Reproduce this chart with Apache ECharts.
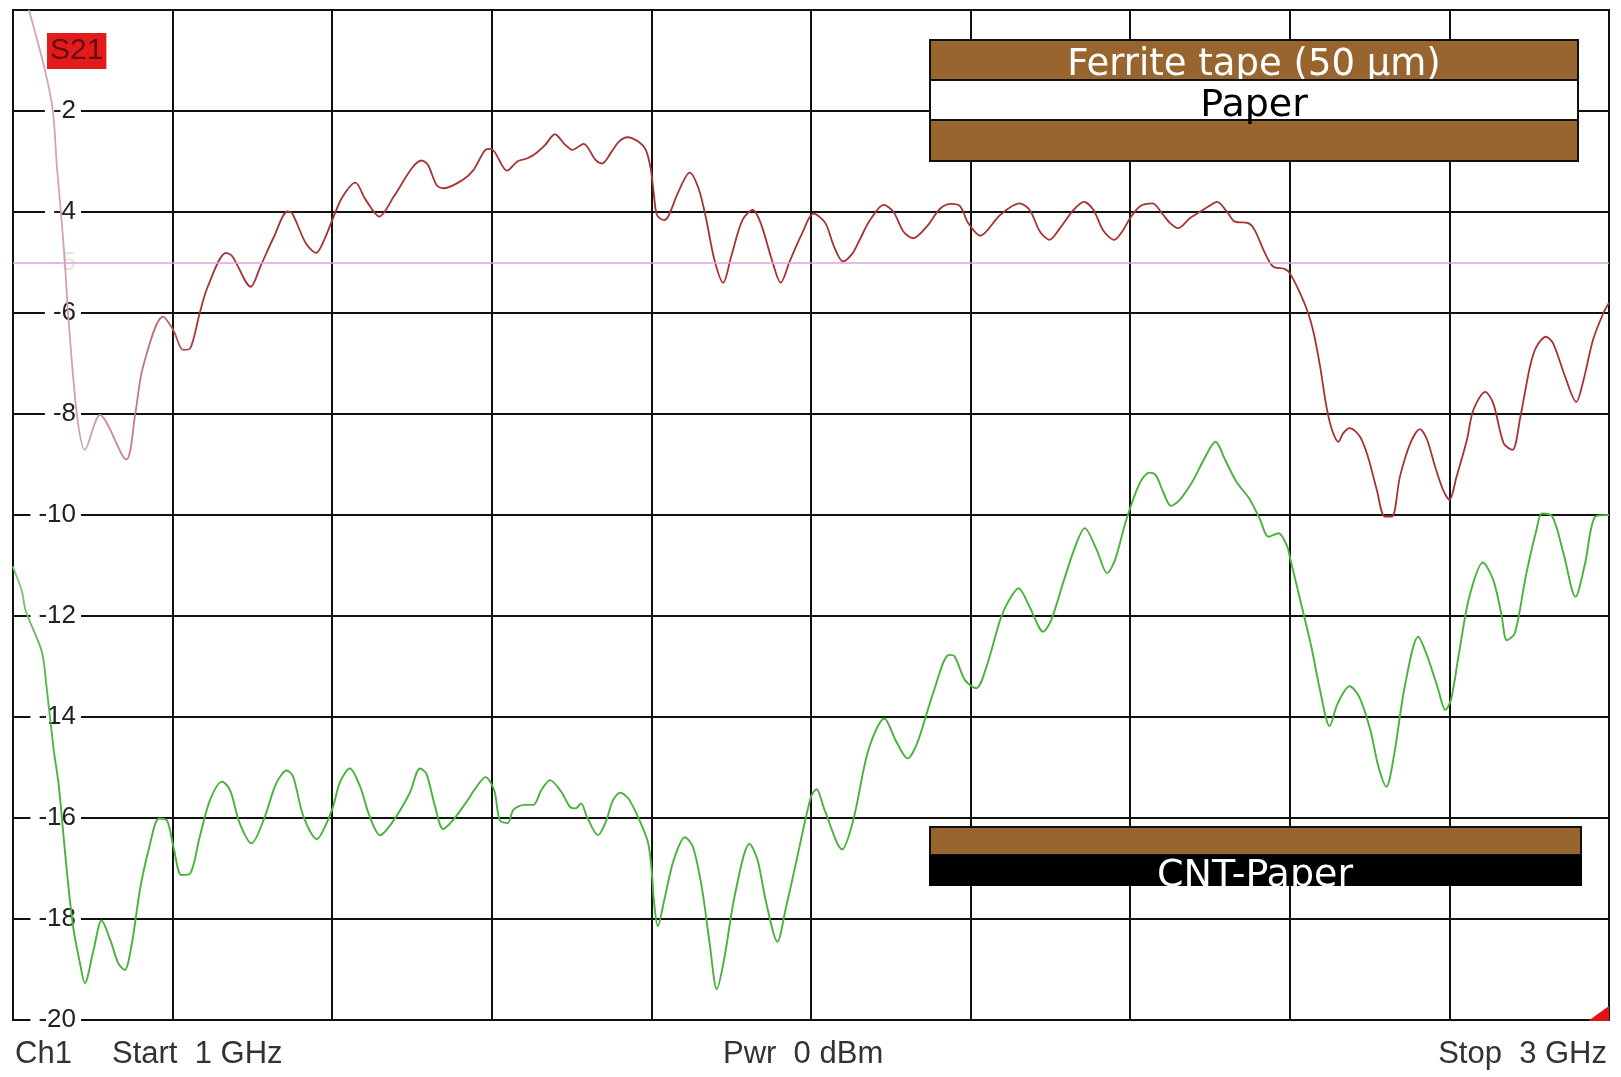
<!DOCTYPE html>
<html>
<head>
<meta charset="utf-8">
<title>S21 – Ferrite tape / CNT-Paper</title>
<script src="https://cdn.jsdelivr.net/npm/echarts@6/dist/echarts.min.js"></script>
<style>
  html, body { margin: 0; padding: 0; background: #fff; }
  #chart { width: 1621px; height: 1077px; }
</style>
</head>
<body>
<div id="chart"></div>
<script>
// Sweep 1 GHz – 3 GHz, transmission S21 in dB

// Ferrite tape (50 µm) on paper
const ferriteFreq = [
  1.020, 1.040, 1.050, 1.055, 1.060, 1.065, 1.069, 1.080, 1.090, 1.109, 1.142, 1.153, 1.163, 1.188,
  1.201, 1.213, 1.222, 1.234, 1.244, 1.267, 1.275, 1.298, 1.310, 1.327, 1.344, 1.350, 1.367, 1.380,
  1.390, 1.401, 1.413, 1.429, 1.442, 1.459, 1.477, 1.500, 1.512, 1.520, 1.531, 1.540, 1.563, 1.577,
  1.592, 1.599, 1.619, 1.632, 1.644, 1.655, 1.667, 1.679, 1.692, 1.701, 1.715, 1.730, 1.738, 1.750,
  1.759, 1.770, 1.784, 1.793, 1.799, 1.803, 1.807, 1.816, 1.822, 1.833, 1.848, 1.859, 1.868, 1.879,
  1.890, 1.900, 1.914, 1.927, 1.937, 1.951, 1.962, 1.974, 1.989, 2.003, 2.018, 2.029, 2.040, 2.052,
  2.061, 2.074, 2.091, 2.103, 2.116, 2.128, 2.145, 2.162, 2.176, 2.187, 2.197, 2.212, 2.237, 2.261,
  2.274, 2.287, 2.299, 2.312, 2.329, 2.342, 2.354, 2.366, 2.380, 2.391, 2.400, 2.412, 2.428, 2.440,
  2.450, 2.460, 2.475, 2.488, 2.498, 2.509, 2.521, 2.531, 2.548, 2.556, 2.569, 2.579, 2.594, 2.600,
  2.613, 2.623, 2.630, 2.638, 2.646, 2.653, 2.661, 2.667, 2.675, 2.688, 2.698, 2.709, 2.719, 2.728,
  2.738, 2.751, 2.763, 2.772, 2.782, 2.792, 2.800, 2.809, 2.822, 2.830, 2.845, 2.855, 2.868, 2.879,
  2.889, 2.901, 2.909, 2.921, 2.930, 2.945, 2.959, 2.968, 2.980, 2.993, 3.000
];
const ferriteDb = [
  0.00, -1.19, -2.00, -3.10, -4.00, -5.00, -6.00, -8.00, -8.71, -8.02, -8.90, -8.02, -7.06, -6.07,
  -6.34, -6.73, -6.70, -6.00, -5.48, -4.81, -4.88, -5.48, -5.08, -4.49, -3.99, -4.03, -4.62, -4.81,
  -4.55, -4.12, -3.70, -3.42, -3.76, -4.09, -3.70, -3.13, -2.98, -3.07, -3.47, -3.53, -3.37, -3.17,
  -2.77, -2.75, -3.18, -3.00, -2.94, -2.84, -2.67, -2.46, -2.67, -2.77, -2.65, -2.97, -3.04, -2.81,
  -2.61, -2.52, -2.61, -2.77, -3.13, -3.63, -4.06, -4.16, -4.06, -3.63, -3.22, -3.53, -4.09, -4.95,
  -5.40, -4.88, -4.16, -3.96, -4.22, -4.95, -5.40, -4.95, -4.42, -4.03, -4.22, -4.69, -4.98, -4.82,
  -4.55, -4.16, -3.86, -3.99, -4.39, -4.52, -4.29, -3.93, -3.84, -3.89, -4.22, -4.47, -4.06, -3.83,
  -3.96, -4.39, -4.55, -4.32, -3.96, -3.80, -3.96, -4.36, -4.55, -4.36, -4.12, -3.89, -3.83, -4.03,
  -4.22, -4.32, -4.12, -3.99, -3.89, -3.80, -3.99, -4.19, -4.22, -4.36, -4.82, -5.08, -5.13, -5.21,
  -5.61, -6.00, -6.40, -7.06, -7.86, -8.32, -8.55, -8.38, -8.28, -8.45, -8.85, -9.50, -10.03, -10.03,
  -9.24, -8.58, -8.30, -8.51, -9.04, -9.50, -9.70, -9.24, -8.51, -7.92, -7.56, -7.79, -8.58, -8.71,
  -8.05, -7.06, -6.67, -6.47, -6.60, -7.26, -7.76, -7.33, -6.53, -6.00, -5.80
];

// CNT-Paper
const cntFreq = [
  1.000, 1.003, 1.011, 1.016, 1.036, 1.042, 1.051, 1.057, 1.063, 1.069, 1.076, 1.084, 1.090, 1.101,
  1.111, 1.122, 1.132, 1.140, 1.149, 1.159, 1.170, 1.183, 1.193, 1.201, 1.211, 1.222, 1.234, 1.247,
  1.262, 1.272, 1.284, 1.299, 1.314, 1.330, 1.343, 1.351, 1.364, 1.381, 1.391, 1.401, 1.410, 1.422,
  1.435, 1.447, 1.460, 1.476, 1.497, 1.510, 1.518, 1.529, 1.539, 1.553, 1.567, 1.581, 1.592, 1.603,
  1.610, 1.620, 1.627, 1.641, 1.652, 1.662, 1.673, 1.687, 1.698, 1.705, 1.712, 1.719, 1.733, 1.743,
  1.752, 1.761, 1.771, 1.785, 1.796, 1.801, 1.803, 1.808, 1.817, 1.828, 1.842, 1.852, 1.863, 1.873,
  1.882, 1.891, 1.905, 1.923, 1.933, 1.944, 1.958, 1.968, 1.982, 2.000, 2.007, 2.017, 2.039, 2.053,
  2.072, 2.092, 2.106, 2.121, 2.133, 2.153, 2.173, 2.180, 2.193, 2.207, 2.220, 2.237, 2.247, 2.260,
  2.274, 2.291, 2.301, 2.317, 2.331, 2.343, 2.358, 2.371, 2.381, 2.395, 2.412, 2.424, 2.432, 2.442,
  2.451, 2.462, 2.479, 2.492, 2.507, 2.519, 2.533, 2.549, 2.563, 2.573, 2.586, 2.597, 2.600, 2.613,
  2.627, 2.637, 2.650, 2.660, 2.675, 2.687, 2.701, 2.711, 2.721, 2.731, 2.744, 2.761, 2.771, 2.785,
  2.795, 2.802, 2.812, 2.825, 2.842, 2.855, 2.865, 2.872, 2.882, 2.896, 2.909, 2.916, 2.929, 2.943,
  2.958, 2.970, 2.983, 3.000
];
const cntDb = [
  -11.02, -11.15, -11.50, -11.90, -12.70, -13.40, -14.65, -15.31, -16.30, -17.29, -18.22, -18.88, -19.27, -18.61,
  -18.03, -18.42, -18.88, -19.01, -18.48, -17.43, -16.63, -16.01, -16.05, -16.57, -17.13, -17.10, -16.37, -15.64,
  -15.28, -15.45, -16.10, -16.50, -16.04, -15.31, -15.06, -15.18, -15.97, -16.42, -16.17, -15.78, -15.28, -15.02,
  -15.38, -15.97, -16.34, -16.07, -15.51, -15.02, -15.12, -15.78, -16.22, -16.01, -15.71, -15.38, -15.19, -15.45,
  -16.04, -16.10, -15.84, -15.74, -15.74, -15.45, -15.25, -15.48, -15.78, -15.81, -15.71, -15.97, -16.34, -16.07,
  -15.64, -15.50, -15.61, -16.04, -16.50, -17.16, -17.62, -18.14, -17.56, -16.83, -16.38, -16.57, -17.36, -18.48,
  -19.39, -18.81, -17.49, -16.51, -16.83, -17.69, -18.45, -17.82, -16.83, -15.58, -15.43, -15.84, -16.62, -16.04,
  -14.65, -14.03, -14.46, -14.82, -14.52, -13.53, -12.77, -12.80, -13.27, -13.43, -13.00, -12.08, -11.72, -11.45,
  -11.82, -12.31, -12.08, -11.29, -10.63, -10.26, -10.69, -11.15, -10.89, -10.10, -9.37, -9.16, -9.21, -9.57,
  -9.82, -9.70, -9.31, -8.91, -8.55, -8.91, -9.34, -9.67, -10.10, -10.43, -10.36, -10.63, -10.83, -11.68,
  -12.61, -13.40, -14.18, -13.73, -13.39, -13.60, -14.26, -14.98, -15.38, -14.72, -13.40, -12.41, -12.74, -13.40,
  -13.86, -13.66, -12.74, -11.62, -10.94, -11.29, -11.95, -12.48, -12.34, -11.19, -10.30, -9.97, -10.03, -10.76,
  -11.62, -10.96, -10.03, -10.00
];

// Scale: labelled dB levels (incl. the -5 dB reference level) and the reference line
const dbTickLabels = [-2, -4, -5, -6, -8, -10, -12, -14, -16, -18, -20];
const referenceLevelDb = -5;

// Instrument status line under the diagram
const statusTexts = ['Ch1', 'Start  1 GHz', 'Pwr  0 dBm', 'Stop  3 GHz'];
const traceTitle = 'S21';

// Layer-stack sketches
const stackTop = ['Ferrite tape (50 \u00b5m)', 'Paper'];
const stackBottom = ['CNT-Paper'];

const zip = (xs, ys) => xs.map((x, i) => [x, ys[i]]);

const chart = echarts.init(document.getElementById('chart'), null, { renderer: 'canvas' });

const brown = '#98652f';
const textFont = '"Liberation Sans", Arial, sans-serif';
const stackFontFamily = '"DejaVu Sans", sans-serif';
const statusFont = '31px ' + textFont;

const option = {
  animation: false,
  backgroundColor: '#ffffff',
  title: {
    text: traceTitle,
    left: 47,
    top: 33,
    padding: [2, 3, 2, 3],
    backgroundColor: '#e21c1c',
    textStyle: {
      color: '#6a0c0c',
      fontFamily: textFont,
      fontSize: 30,
      fontWeight: 'normal',
      lineHeight: 32
    },
    z: 20
  },
  grid: {
    left: 13,
    right: 12,
    top: 10,
    bottom: 57,
    show: true,
    borderColor: '#111',
    borderWidth: 2,
    backgroundColor: '#fff'
  },
  xAxis: {
    type: 'value',
    min: 1,
    max: 3,
    interval: 0.2,
    z: 2,
    axisLine: { show: true, onZero: false, lineStyle: { color: '#111', width: 2 } },
    axisTick: { show: false },
    axisLabel: { show: false },
    splitLine: { show: true, lineStyle: { color: '#111', width: 2 } }
  },
  yAxis: {
    type: 'value',
    min: -20,
    max: 0,
    interval: 2,
    z: 3,
    axisLine: { show: false },
    axisTick: { show: false },
    splitLine: { show: true, lineStyle: { color: '#111', width: 2 } },
    axisLabel: {
      show: true,
      inside: true,
      customValues: dbTickLabels,
      align: 'right',
      margin: 68,
      color: '#222',
      fontFamily: textFont,
      fontSize: 26,
      backgroundColor: '#fff',
      padding: [0, 5, 0, 8],
      formatter: (v) => (v === referenceLevelDb ? '{ref|' + v + '}' : String(v)),
      rich: {
        ref: { color: '#e4e4e4', fontFamily: textFont, fontSize: 26 }
      }
    }
  },
  series: [
    {
      // reference level line
      name: 'Reference',
      type: 'line',
      data: [],
      z: 1,
      silent: true,
      markLine: {
        silent: true,
        symbol: 'none',
        label: { show: false },
        lineStyle: { color: '#dca6d4', width: 1.6, type: 'solid' },
        data: [{ yAxis: referenceLevelDb }]
      }
    },
    {
      name: 'Ferrite tape (50 \u00b5m) / Paper',
      type: 'line',
      data: zip(ferriteFreq, ferriteDb),
      showSymbol: false,
      smooth: 0.3,
      clip: true,
      z: 4,
      lineStyle: {
        width: 1.8,
        color: new echarts.graphic.LinearGradient(0, 0, 1, 0, [
          { offset: 0, color: '#dba2b6' },
          { offset: 0.04, color: '#cfa0a4' },
          { offset: 0.085, color: '#b86a6a' },
          { offset: 0.11, color: '#a63232' },
          { offset: 1, color: '#a63232' }
        ])
      }
    },
    {
      name: 'CNT-Paper',
      type: 'line',
      data: zip(cntFreq, cntDb),
      showSymbol: false,
      smooth: 0.3,
      clip: true,
      z: 4,
      lineStyle: {
        width: 1.9,
        color: new echarts.graphic.LinearGradient(0, 0, 1, 0, [
          { offset: 0, color: '#86cf7c' },
          { offset: 0.03, color: '#48b23a' },
          { offset: 1, color: '#48b23a' }
        ])
      }
    }
  ],
  graphic: [
    // Ferrite tape / Paper / Ferrite tape stack
    { type: 'rect', z: 30, shape: { x: 930, y: 40, width: 648, height: 40 },
      style: { fill: brown, stroke: '#111', lineWidth: 2 } },
    { type: 'text', z: 31, x: 1254, y: 65,
      style: { text: stackTop[0], fill: '#fff', font: '37px ' + stackFontFamily, align: 'center', verticalAlign: 'middle' } },
    { type: 'rect', z: 32, shape: { x: 930, y: 80, width: 648, height: 40 },
      style: { fill: '#fff', stroke: '#111', lineWidth: 2 } },
    { type: 'rect', z: 32, shape: { x: 930, y: 120, width: 648, height: 41 },
      style: { fill: brown, stroke: '#111', lineWidth: 2 } },
    { type: 'text', z: 33, x: 1254, y: 106,
      style: { text: stackTop[1], fill: '#000', font: '38px ' + stackFontFamily, align: 'center', verticalAlign: 'middle' } },

    // Ferrite tape / CNT-Paper stack
    { type: 'rect', z: 30, shape: { x: 930, y: 827, width: 651, height: 28 },
      style: { fill: brown, stroke: '#111', lineWidth: 2 } },
    { type: 'rect', z: 31, shape: { x: 929, y: 855, width: 653, height: 31 },
      style: { fill: '#000' } },
    { type: 'text', z: 32, x: 1255, y: 876,
      style: { text: stackBottom[0], fill: '#fff', font: '38px ' + stackFontFamily, align: 'center', verticalAlign: 'middle' } },

    // reference position marker at the lower right corner
    { type: 'polygon', z: 25, shape: { points: [[1588, 1021], [1609, 1021], [1609, 1006]] },
      style: { fill: '#e01414' } },

    // status line
    { type: 'text', z: 30, x: 15, y: 1054,
      style: { text: statusTexts[0], fill: '#333', font: statusFont, align: 'left', verticalAlign: 'middle' } },
    { type: 'text', z: 30, x: 112, y: 1054,
      style: { text: statusTexts[1], fill: '#333', font: statusFont, align: 'left', verticalAlign: 'middle' } },
    { type: 'text', z: 30, x: 723, y: 1054,
      style: { text: statusTexts[2], fill: '#333', font: statusFont, align: 'left', verticalAlign: 'middle' } },
    { type: 'text', z: 30, x: 1607, y: 1054,
      style: { text: statusTexts[3], fill: '#333', font: statusFont, align: 'right', verticalAlign: 'middle' } }
  ]
};

chart.setOption(option);
</script>
</body>
</html>
